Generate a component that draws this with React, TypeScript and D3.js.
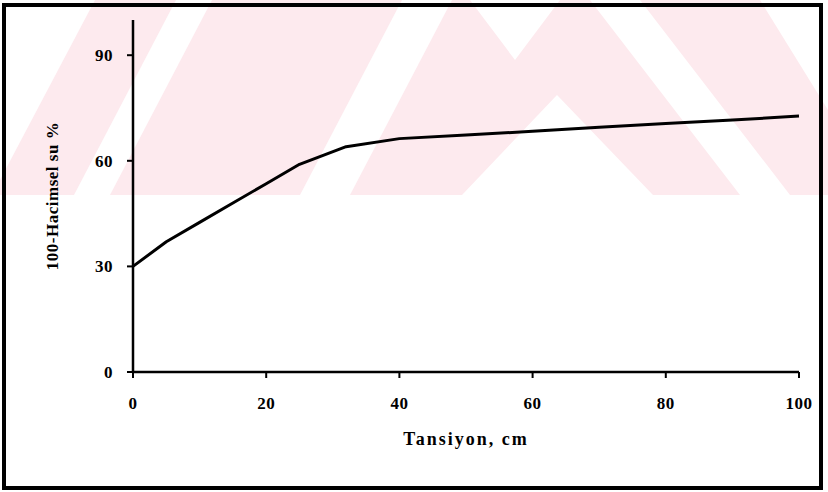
import React, { useEffect, useRef } from "react";
import * as d3 from "d3";

// Data
const tension = [0, 5, 10, 15, 20, 25, 32, 40, 50, 60, 70, 80, 90, 100];
const value = [30, 37, 42.5, 48, 53.5, 59, 64, 66.3, 67.3, 68.4, 69.5, 70.6, 71.6, 72.7];
const xTicks = [0, 20, 40, 60, 80, 100];
const yTicks = [0, 30, 60, 90];
const xTitle = "Tansiyon, cm";
const yTitle = "100-Hacimsel su %";

const W = 828;
const H = 492;

export default function App() {
  const ref = useRef<SVGSVGElement>(null);

  useEffect(() => {
    const svg = d3.select(ref.current);
    svg.selectAll("*").remove();

    const x = d3.scaleLinear().domain([0, 100]).range([133, 799]);
    const y = d3.scaleLinear().domain([0, 100]).range([372, 20]);

    // white page
    svg.append("rect").attr("width", W).attr("height", H).attr("fill", "#fff");

    // faint scan watermark band
    const wm = svg.append("g");
    wm.append("rect").attr("x", 0).attr("y", 0).attr("width", W).attr("height", 195).attr("fill", "#fdeaee");
    const whites: [number, number][][] = [
      [[0, 0], [95, 0], [0, 180]],
      [[74, 195], [110, 195], [212, 0], [176, 0]],
      [[300, 195], [350, 195], [452, 0], [402, 0]],
      [[462, 195], [557, 95], [653, 195]],
      [[590, 0], [640, 0], [790, 195], [740, 195]],
      [[470, 0], [560, 0], [515, 60]],
      [[760, 0], [828, 0], [828, 110]],
    ];
    whites.forEach((pts) => {
      wm.append("polygon").attr("points", pts.map((p) => p.join(",")).join(" ")).attr("fill", "#fff");
    });

    // frame
    svg
      .append("rect")
      .attr("x", 4)
      .attr("y", 5)
      .attr("width", 817)
      .attr("height", 483)
      .attr("fill", "none")
      .attr("stroke", "#000")
      .attr("stroke-width", 4);

    const font = "'Liberation Serif', 'Times New Roman', serif";

    // y axis
    const yAxis = svg.append("g");
    yAxis.append("line").attr("x1", x(0)).attr("x2", x(0)).attr("y1", y(100)).attr("y2", y(0)).attr("stroke", "#000").attr("stroke-width", 2.5);
    yTicks.forEach((t) => {
      yAxis.append("line").attr("x1", x(0) - 6).attr("x2", x(0)).attr("y1", y(t)).attr("y2", y(t)).attr("stroke", "#000").attr("stroke-width", 2);
      yAxis
        .append("text")
        .attr("x", 113)
        .attr("y", y(t))
        .attr("dy", "0.35em")
        .attr("text-anchor", "end")
        .attr("font-family", font)
        .attr("font-weight", "bold")
        .attr("font-size", 17)
        .attr("letter-spacing", 0.5)
        .attr("fill", "#000")
        .text(String(t));
    });

    // x axis
    const xAxis = svg.append("g");
    xAxis.append("line").attr("x1", x(0)).attr("x2", x(100)).attr("y1", y(0)).attr("y2", y(0)).attr("stroke", "#000").attr("stroke-width", 2.5);
    xTicks.forEach((t) => {
      xAxis.append("line").attr("x1", x(t)).attr("x2", x(t)).attr("y1", y(0)).attr("y2", y(0) + 6).attr("stroke", "#000").attr("stroke-width", 2);
      xAxis
        .append("text")
        .attr("x", x(t))
        .attr("y", 403)
        .attr("dy", "0.35em")
        .attr("text-anchor", "middle")
        .attr("font-family", font)
        .attr("font-weight", "bold")
        .attr("font-size", 17)
        .attr("letter-spacing", 0.5)
        .attr("fill", "#000")
        .text(String(t));
    });

    // titles
    svg
      .append("text")
      .attr("x", 466)
      .attr("y", 439)
      .attr("dy", "0.35em")
      .attr("text-anchor", "middle")
      .attr("font-family", font)
      .attr("font-weight", "bold")
      .attr("font-size", 18)
      .attr("letter-spacing", 2)
      .attr("fill", "#000")
      .text(xTitle);

    svg
      .append("text")
      .attr("transform", `translate(52,196) rotate(-90)`)
      .attr("dy", "0.35em")
      .attr("text-anchor", "middle")
      .attr("font-family", font)
      .attr("font-weight", "bold")
      .attr("font-size", 17)
      .attr("letter-spacing", 0.5)
      .attr("fill", "#000")
      .text(yTitle);

    // data line
    const line = d3
      .line<number>()
      .x((_, i) => x(tension[i]))
      .y((d) => y(d));
    svg
      .append("path")
      .attr("d", line(value) as string)
      .attr("fill", "none")
      .attr("stroke", "#000")
      .attr("stroke-width", 3)
      .attr("stroke-linejoin", "round");
  }, []);

  return (
    <svg
      ref={ref}
      width={W}
      height={H}
      style={{ position: "absolute", left: 0, top: 0, display: "block" }}
    />
  );
}
